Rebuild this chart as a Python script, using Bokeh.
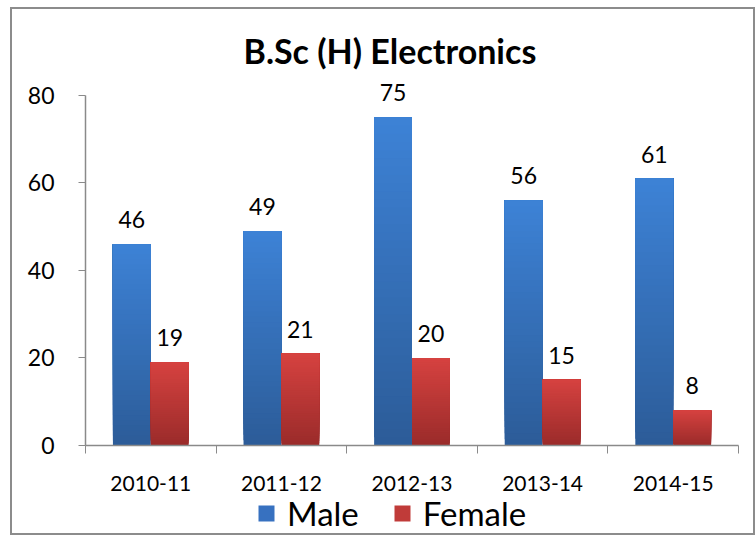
import numpy as np
from bokeh.plotting import figure
from bokeh.layouts import column
from bokeh.models import Range1d, FixedTicker, Legend, LegendItem, ColumnDataSource
from bokeh.core.properties import value
from bokeh.embed import file_html
from bokeh.resources import INLINE

categories = ["2010-11", "2011-12", "2012-13", "2013-14", "2014-15"]
male = [46, 49, 75, 56, 61]
female = [19, 21, 20, 15, 8]
y_ticks = [0, 20, 40, 60, 80]

FONT = "Lato"
W = 741
p = figure(width=W, height=484, output_backend="svg", toolbar_location=None,
           x_range=Range1d(0, len(categories)), y_range=Range1d(0, 84.1),
           min_border_left=73, min_border_right=15, min_border_top=68, min_border_bottom=48,
           title="B.Sc (H) Electronics")
p.title.align = "left"
p.title.offset = 158
p.title.text_font = FONT
p.title.text_font_size = "34px"
p.title.text_font_style = "bold"
p.title.text_color = "#000000"
p.title.standoff = 14
p.grid.visible = False
p.outline_line_color = None

idx = np.arange(len(categories))
w = 0.29
xm = idx + 0.5 - w / 2
xf = idx + 0.5 + w / 2

def grad_bars(xs, vals, top_col, bot_col, n=40):
    top_col = np.array(top_col, float); bot_col = np.array(bot_col, float)
    vals = np.array(vals, float)
    xx, b, t, c = [], [], [], []
    for k in range(n):
        f0 = k / n
        col = bot_col + (top_col - bot_col) * (k + 0.5) / n
        hexc = "#%02x%02x%02x" % tuple(int(round(v)) for v in col)
        for x, v in zip(xs, vals):
            xx.append(float(x)); b.append(float(v * f0)); t.append(float(v)); c.append(hexc)
    src = ColumnDataSource(dict(x=xx, bottom=b, top=t, color=c))
    return p.vbar(x="x", bottom="bottom", top="top", width=w, source=src,
                  fill_color="color", line_color=None)

grad_bars(xm, male, (61, 130, 214), (44, 92, 152))
grad_bars(xf, female, (214, 66, 64), (154, 43, 42))

p.text(x=list(xm), y=male, text=[str(v) for v in male], text_font=value(FONT), text_font_size="23px",
       text_align="center", text_baseline="bottom", y_offset=-16, text_color="#000000")
p.text(x=list(xf), y=female, text=[str(v) for v in female], text_font=value(FONT), text_font_size="23px",
       text_align="center", text_baseline="bottom", y_offset=-16, text_color="#000000")

# axes
xa = p.xaxis[0]
xa.ticker = FixedTicker(ticks=[float(i + 0.5) for i in idx],
                        minor_ticks=list(range(len(categories) + 1)))
xa.major_label_overrides = {float(i + 0.5): c for i, c in enumerate(categories)}
xa.major_tick_line_color = None
xa.minor_tick_in = 0
xa.minor_tick_out = 8
xa.minor_tick_line_color = "#8a8a8a"
xa.axis_line_color = "#8a8a8a"
xa.axis_line_width = 1.5
xa.major_label_text_font = FONT
xa.major_label_text_font_size = "21px"
xa.major_label_standoff = 22
xa.major_label_text_color = "#000000"

ya = p.yaxis[0]
ya.ticker = FixedTicker(ticks=y_ticks)
ya.bounds = (0, 80)
ya.minor_tick_line_color = None
ya.major_tick_in = 0
ya.major_tick_out = 7
ya.major_tick_line_color = "#8a8a8a"
ya.axis_line_color = "#8a8a8a"
ya.axis_line_width = 1.5
ya.major_label_text_font = FONT
ya.major_label_text_font_size = "23px"
ya.major_label_standoff = 24
ya.major_label_text_color = "#000000"

# legend strip
p2 = figure(width=W, height=40, output_backend="svg", toolbar_location=None,
            x_range=Range1d(0, 1), y_range=Range1d(0, 1), min_border=0)
p2.axis.visible = False
p2.grid.visible = False
p2.outline_line_color = None
rm = p2.vbar(x=[0.5], top=[0], width=0.01, fill_color="#3771c0", line_color=None)
rf = p2.vbar(x=[0.5], top=[0], width=0.01, fill_color="#c03b39", line_color=None)
legend = Legend(items=[LegendItem(label="Male", renderers=[rm]),
                       LegendItem(label="Female", renderers=[rf])],
                orientation="horizontal", location=(171, 0),
                label_text_font=FONT, label_text_font_size="33px", label_text_color="#000000",
                glyph_width=20, glyph_height=20, spacing=33, padding=0, margin=0,
                border_line_color=None, background_fill_alpha=0, label_standoff=11)
p2.add_layout(legend, "center")

layout = column(p, p2, spacing=0,
                styles={"border": "2px solid #8c8c8c", "margin-left": "10px", "margin-top": "7px"})

open("out.html", "w").write(file_html(layout, INLINE))
